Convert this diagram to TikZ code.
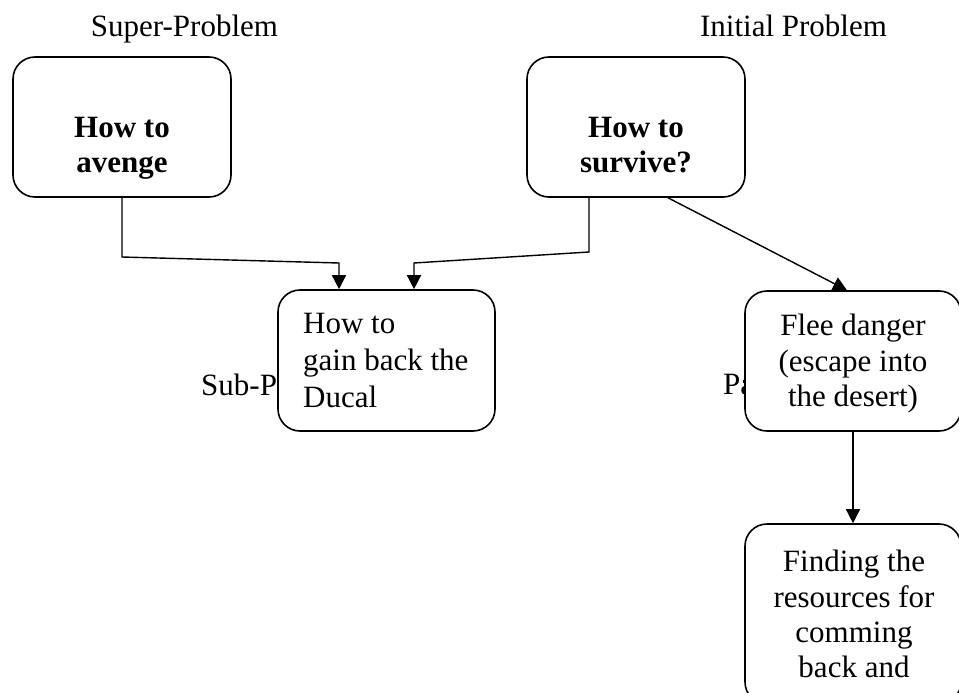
\documentclass[tikz,border=0pt]{standalone}
\usepackage{fontspec}
\setmainfont{Liberation Serif}
\usetikzlibrary{arrows.meta}
\begin{document}
\begin{tikzpicture}[x=1pt,y=-1pt,
  box/.style={draw,line width=1.6pt,rounded corners=22pt,fill=white,inner sep=0pt},
  txt/.style={inner sep=0pt,font=\fontsize{31}{35.5}\selectfont},
  conn/.style={line width=1.4pt,-{Triangle[length=14pt,width=14pt]}}]
\useasboundingbox (0,0) rectangle (959,693);
% labels partly hidden behind boxes
\node[txt,anchor=base west] (sublbl) at (201,395) {Sub-P};
\node[txt,anchor=base west] (palbl) at (723,394) {Pa};
% top labels
\node[txt,anchor=base] (superlbl) at (184.5,37) {Super-Problem};
\node[txt,anchor=base] (initlbl) at (793.5,37) {Initial Problem};
% boxes
\node[box,minimum width=218pt,minimum height=140pt] (A) at (122,127) {};
\node[box,minimum width=218pt,minimum height=140pt] (B) at (636,127) {};
\node[box,minimum width=217pt,minimum height=141pt] (C) at (386.5,360.5) {};
\node[box,minimum width=216pt,minimum height=140pt] (D) at (853,361) {};
\node[box,minimum width=216pt,minimum height=180pt] (E) at (853,614) {};
% box texts
\node[txt,anchor=north,align=center,font=\fontsize{31}{35}\selectfont\bfseries] (At) at (122,117) {How to\\avenge};
\node[txt,anchor=north,align=center,font=\fontsize{31}{35}\selectfont\bfseries] (Bt) at (636,117) {How to\\survive?};
\node[txt,anchor=north west,align=left,font=\fontsize{31}{37}\selectfont] (Ct) at (303,313) {How to\\gain back the\\Ducal};
\node[txt,anchor=north,align=center] (Dt) at (853,314) {Flee danger\\(escape into\\the desert)};
\node[txt,anchor=north,align=center,font=\fontsize{31}{35.3}\selectfont] (Et) at (854,550) {Finding the\\resources for\\comming\\back and};
% connectors
\draw[conn] (A.south) -- (122,257) -- (339,263) -- ([xshift=-47.5pt]C.north);
\draw[conn] ([xshift=-47pt]B.south) -- (589,252) -- (414,263) -- ([xshift=27.5pt]C.north);
\draw[conn] ([xshift=32pt]B.south) -- ([xshift=-6pt]D.north);
\draw[conn] (D.south) -- (E.north);
\end{tikzpicture}
\end{document}
